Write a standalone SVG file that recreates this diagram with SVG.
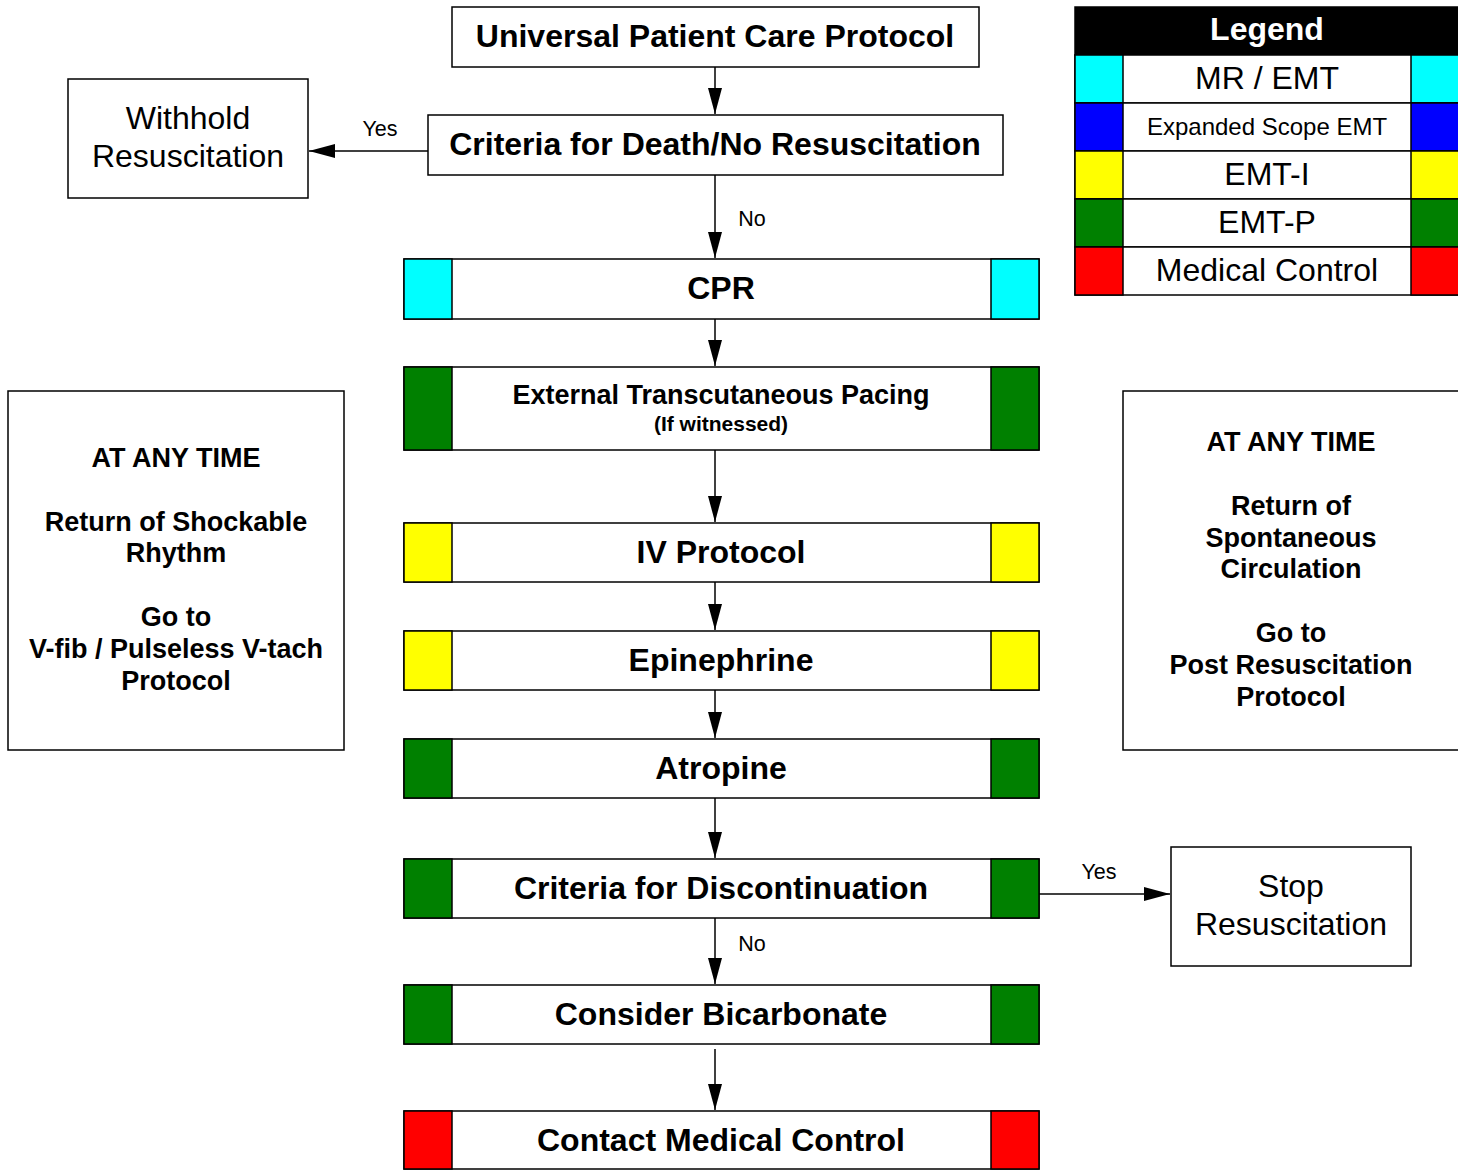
<svg xmlns="http://www.w3.org/2000/svg" width="1458" height="1170" viewBox="0 0 1458 1170">
<defs>
<style>
text{font-family:"Liberation Sans",Arial,sans-serif;fill:#000;text-anchor:middle}
.b{font-weight:bold}
.box{fill:#fff;stroke:#000;stroke-width:1.5}
.edge{stroke:#000;stroke-width:1.5;fill:none}
.cy{fill:#00FFFF;stroke:#000;stroke-width:1.5}
.bl{fill:#0000FF;stroke:#000;stroke-width:1.5}
.ye{fill:#FFFF00;stroke:#000;stroke-width:1.5}
.gr{fill:#008000;stroke:#000;stroke-width:1.5}
.rd{fill:#FF0000;stroke:#000;stroke-width:1.5}
.lbl{font-size:21.5px}
.t{font-size:32px}
.n{font-size:27px;font-weight:bold}
</style>
<marker id="ah2" markerWidth="26" markerHeight="14" refX="26" refY="7" orient="auto" markerUnits="userSpaceOnUse">
<path d="M0,0 L26,7 L0,14 Z" fill="#000"/>
</marker>
</defs>

<g id="connectors">
<path class="edge" d="M715,67 L715,114" marker-end="url(#ah2)"/>
<path class="edge" d="M428,151 L309,151" marker-end="url(#ah2)"/>
<text class="lbl" x="380" y="136">Yes</text>
<path class="edge" d="M715,175 L715,258" marker-end="url(#ah2)"/>
<text class="lbl" x="752" y="226">No</text>
<path class="edge" d="M715,319 L715,366" marker-end="url(#ah2)"/>
<path class="edge" d="M715,450 L715,522" marker-end="url(#ah2)"/>
<path class="edge" d="M715,582 L715,630" marker-end="url(#ah2)"/>
<path class="edge" d="M715,690 L715,738" marker-end="url(#ah2)"/>
<path class="edge" d="M715,798 L715,858" marker-end="url(#ah2)"/>
<path class="edge" d="M1039,894 L1170,894" marker-end="url(#ah2)"/>
<text class="lbl" x="1099" y="879">Yes</text>
<path class="edge" d="M715,918 L715,984" marker-end="url(#ah2)"/>
<text class="lbl" x="752" y="951">No</text>
<path class="edge" d="M715,1049 L715,1110" marker-end="url(#ah2)"/>
</g>

<g id="universal">
<rect class="box" x="452" y="7" width="527" height="60"/>
<text class="b t" x="715" y="47">Universal Patient Care Protocol</text>
</g>

<g id="criteria-death">
<rect class="box" x="428" y="115" width="575" height="60"/>
<text class="b t" x="715" y="155">Criteria for Death/No Resuscitation</text>
</g>

<g id="withhold">
<rect class="box" x="68" y="79" width="240" height="119"/>
<text class="t" x="188" y="129">Withhold</text>
<text class="t" x="188" y="167">Resuscitation</text>
</g>

<g id="cpr">
<rect class="box" x="404" y="259" width="635" height="60"/>
<rect class="cy" x="404" y="259" width="48" height="60"/>
<rect class="cy" x="991" y="259" width="48" height="60"/>
<text class="b t" x="721" y="299">CPR</text>
</g>

<g id="pacing">
<rect class="box" x="404" y="367" width="635" height="83"/>
<rect class="gr" x="404" y="367" width="48" height="83"/>
<rect class="gr" x="991" y="367" width="48" height="83"/>
<text class="b" x="721" y="404" font-size="27">External Transcutaneous Pacing</text>
<text class="b" x="721" y="431" font-size="21">(If witnessed)</text>
</g>

<g id="iv">
<rect class="box" x="404" y="523" width="635" height="59"/>
<rect class="ye" x="404" y="523" width="48" height="59"/>
<rect class="ye" x="991" y="523" width="48" height="59"/>
<text class="b t" x="721" y="563">IV Protocol</text>
</g>

<g id="epinephrine">
<rect class="box" x="404" y="631" width="635" height="59"/>
<rect class="ye" x="404" y="631" width="48" height="59"/>
<rect class="ye" x="991" y="631" width="48" height="59"/>
<text class="b t" x="721" y="671">Epinephrine</text>
</g>

<g id="atropine">
<rect class="box" x="404" y="739" width="635" height="59"/>
<rect class="gr" x="404" y="739" width="48" height="59"/>
<rect class="gr" x="991" y="739" width="48" height="59"/>
<text class="b t" x="721" y="779">Atropine</text>
</g>

<g id="criteria-disc">
<rect class="box" x="404" y="859" width="635" height="59"/>
<rect class="gr" x="404" y="859" width="48" height="59"/>
<rect class="gr" x="991" y="859" width="48" height="59"/>
<text class="b t" x="721" y="899">Criteria for Discontinuation</text>
</g>

<g id="stop">
<rect class="box" x="1171" y="847" width="240" height="119"/>
<text class="t" x="1291" y="897">Stop</text>
<text class="t" x="1291" y="935">Resuscitation</text>
</g>

<g id="bicarbonate">
<rect class="box" x="404" y="985" width="635" height="59"/>
<rect class="gr" x="404" y="985" width="48" height="59"/>
<rect class="gr" x="991" y="985" width="48" height="59"/>
<text class="b t" x="721" y="1025">Consider Bicarbonate</text>
</g>

<g id="contact">
<rect class="box" x="404" y="1111" width="635" height="58"/>
<rect class="rd" x="404" y="1111" width="48" height="58"/>
<rect class="rd" x="991" y="1111" width="48" height="58"/>
<text class="b t" x="721" y="1151">Contact Medical Control</text>
</g>

<g id="left-note">
<rect class="box" x="8" y="391" width="336" height="359"/>
<text class="n" x="176" y="467">AT ANY TIME</text>
<text class="n" x="176" y="531">Return of Shockable</text>
<text class="n" x="176" y="562">Rhythm</text>
<text class="n" x="176" y="626">Go to</text>
<text class="n" x="176" y="658">V-fib / Pulseless V-tach</text>
<text class="n" x="176" y="690">Protocol</text>
</g>

<g id="right-note">
<rect class="box" x="1123" y="391" width="345" height="359"/>
<text class="n" x="1291" y="451">AT ANY TIME</text>
<text class="n" x="1291" y="515">Return of</text>
<text class="n" x="1291" y="547">Spontaneous</text>
<text class="n" x="1291" y="578">Circulation</text>
<text class="n" x="1291" y="642">Go to</text>
<text class="n" x="1291" y="674">Post Resuscitation</text>
<text class="n" x="1291" y="706">Protocol</text>
</g>

<g id="legend">
<rect x="1075" y="7" width="390" height="48" fill="#000" stroke="#000" stroke-width="1.5"/>
<text class="b t" x="1267" y="40" style="fill:#fff">Legend</text>
<rect class="box" x="1075" y="55" width="390" height="48"/>
<rect class="cy" x="1075" y="55" width="48" height="48"/>
<rect class="cy" x="1411" y="55" width="54" height="48"/>
<text class="t" x="1267" y="89">MR / EMT</text>
<rect class="box" x="1075" y="103" width="390" height="48"/>
<rect class="bl" x="1075" y="103" width="48" height="48"/>
<rect class="bl" x="1411" y="103" width="54" height="48"/>
<text x="1267" y="135" font-size="24">Expanded Scope EMT</text>
<rect class="box" x="1075" y="151" width="390" height="48"/>
<rect class="ye" x="1075" y="151" width="48" height="48"/>
<rect class="ye" x="1411" y="151" width="54" height="48"/>
<text class="t" x="1267" y="185">EMT-I</text>
<rect class="box" x="1075" y="199" width="390" height="48"/>
<rect class="gr" x="1075" y="199" width="48" height="48"/>
<rect class="gr" x="1411" y="199" width="54" height="48"/>
<text class="t" x="1267" y="233">EMT-P</text>
<rect class="box" x="1075" y="247" width="390" height="48"/>
<rect class="rd" x="1075" y="247" width="48" height="48"/>
<rect class="rd" x="1411" y="247" width="54" height="48"/>
<text class="t" x="1267" y="281">Medical Control</text>
</g>
</svg>
